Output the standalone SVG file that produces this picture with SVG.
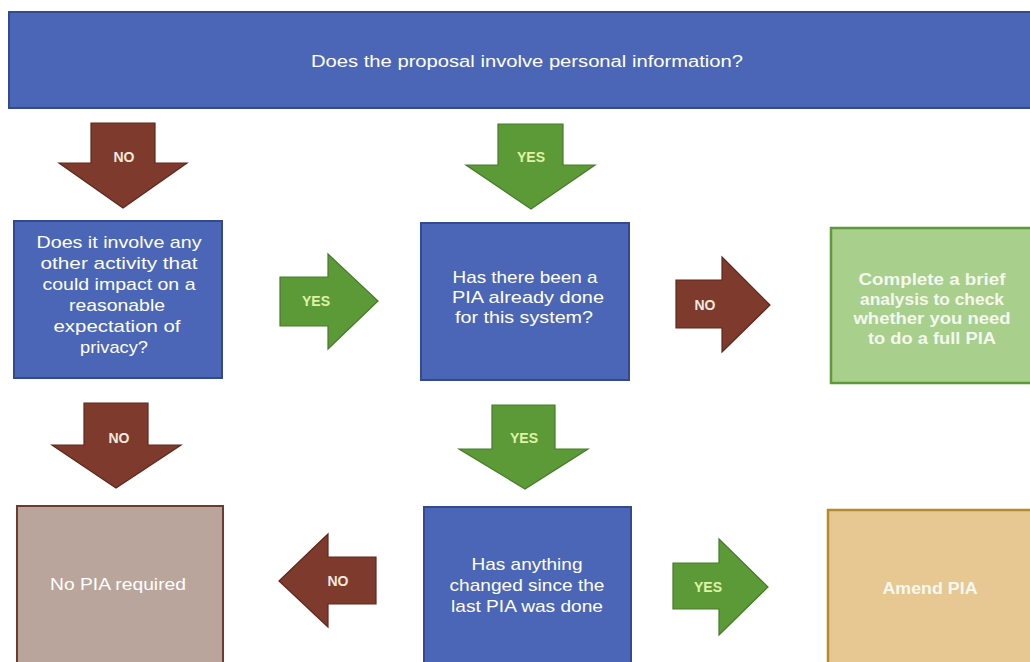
<svg xmlns="http://www.w3.org/2000/svg" width="1030" height="662" viewBox="0 0 1030 662">
<style>
.t{font-family:"Liberation Sans",Arial,sans-serif;fill:#ffffff;text-anchor:middle}
.q{font-size:17px}
.b{font-size:16px;font-weight:bold;fill:#f4f8ee}
.lab{font-family:"Liberation Sans",Arial,sans-serif;font-size:14px;font-weight:bold;text-anchor:middle}
.blue{fill:#4b66b6;stroke:#34498f;stroke-width:2}
.brown{fill:#7e3a2c;stroke:#5e281d;stroke-width:1.2}
.green{fill:#5c9a38;stroke:#477a2a;stroke-width:1.2}
.no{fill:#f3e9dc}
.yes{fill:#dff3a8}
</style>
<rect width="1030" height="662" fill="#ffffff"/>
<g id="connectors">
  <g id="arrow-no-1"><polygon class="brown" points="91,123 155,123 155,163 187,163 123,208 59,163 91,163"/><text class="lab no" x="124" y="162">NO</text></g>
  <g id="arrow-yes-1"><polygon class="green" points="498,124 563,124 563,165 595,165 531,209 466,165 498,165"/><text class="lab yes" x="531" y="162">YES</text></g>
  <g id="arrow-yes-2"><polygon class="green" points="280,277 328,277 328,254 378,301 328,349 328,326 280,326"/><text class="lab yes" x="316" y="306">YES</text></g>
  <g id="arrow-no-2"><polygon class="brown" points="676,280 722,280 722,257 770,305 722,352 722,328 676,328"/><text class="lab no" x="705" y="310">NO</text></g>
  <g id="arrow-no-3"><polygon class="brown" points="84,403 148,403 148,445 181,445 116,488 52,445 84,445"/><text class="lab no" x="119" y="443">NO</text></g>
  <g id="arrow-yes-3"><polygon class="green" points="492,405 555,405 555,449 588,449 525,489 459,449 492,449"/><text class="lab yes" x="524" y="443">YES</text></g>
  <g id="arrow-no-4"><polygon class="brown" points="279,581 328,534 328,557 376,557 376,604 328,604 328,627"/><text class="lab no" x="338" y="586">NO</text></g>
  <g id="arrow-yes-4"><polygon class="green" points="673,563 719,563 719,539 768,587 719,635 719,609 673,609"/><text class="lab yes" x="708" y="592">YES</text></g>
</g>
<g id="start">
  <rect class="blue" x="9" y="12" width="1030" height="96"/>
  <text class="t" x="527" y="67" font-size="16" textLength="432" lengthAdjust="spacingAndGlyphs">Does the proposal involve personal information?</text>
</g>
<g id="q-other-activity">
  <rect class="blue" x="14" y="221" width="208" height="157"/>
  <text class="t q" x="119" y="248" textLength="165" lengthAdjust="spacingAndGlyphs">Does it involve any</text>
  <text class="t q" x="119" y="269" textLength="157" lengthAdjust="spacingAndGlyphs">other activity that</text>
  <text class="t q" x="119" y="290" textLength="153" lengthAdjust="spacingAndGlyphs">could impact on a</text>
  <text class="t q" x="117" y="311" textLength="96" lengthAdjust="spacingAndGlyphs">reasonable</text>
  <text class="t q" x="117" y="332" textLength="127" lengthAdjust="spacingAndGlyphs">expectation of</text>
  <text class="t q" x="114" y="353" textLength="68" lengthAdjust="spacingAndGlyphs">privacy?</text>
</g>
<g id="q-pia-done">
  <rect class="blue" x="421" y="223" width="208" height="157"/>
  <text class="t q" x="525" y="283" textLength="145" lengthAdjust="spacingAndGlyphs">Has there been a</text>
  <text class="t q" x="528" y="303" textLength="152" lengthAdjust="spacingAndGlyphs">PIA already done</text>
  <text class="t q" x="524" y="323" textLength="138" lengthAdjust="spacingAndGlyphs">for this system?</text>
</g>
<g id="brief-analysis">
  <rect x="831" y="228" width="210" height="155" fill="#a8cf8c" stroke="#5e9a3a" stroke-width="2.5"/>
  <text class="t b" x="932" y="285" textLength="147" lengthAdjust="spacingAndGlyphs">Complete a brief</text>
  <text class="t b" x="932" y="304.5" textLength="144" lengthAdjust="spacingAndGlyphs">analysis to check</text>
  <text class="t b" x="932" y="324" textLength="157" lengthAdjust="spacingAndGlyphs">whether you need</text>
  <text class="t b" x="932" y="343.5" textLength="128" lengthAdjust="spacingAndGlyphs">to do a full PIA</text>
</g>
<g id="no-pia">
  <rect x="17" y="506" width="206" height="162" fill="#b9a59c" stroke="#6e3b2d" stroke-width="2"/>
  <text class="t q" x="118" y="590" textLength="136" lengthAdjust="spacingAndGlyphs">No PIA required</text>
</g>
<g id="q-changed">
  <rect class="blue" x="424" y="507" width="207" height="162"/>
  <text class="t q" x="527" y="570" textLength="111" lengthAdjust="spacingAndGlyphs">Has anything</text>
  <text class="t q" x="527" y="591" textLength="155" lengthAdjust="spacingAndGlyphs">changed since the</text>
  <text class="t q" x="527" y="612" textLength="152" lengthAdjust="spacingAndGlyphs">last PIA was done</text>
</g>
<g id="amend-pia">
  <rect x="828" y="510" width="212" height="160" fill="#e7c892" stroke="#b8892c" stroke-width="2.5"/>
  <text class="t b" x="930" y="594" textLength="95" lengthAdjust="spacingAndGlyphs">Amend PIA</text>
</g>
</svg>
